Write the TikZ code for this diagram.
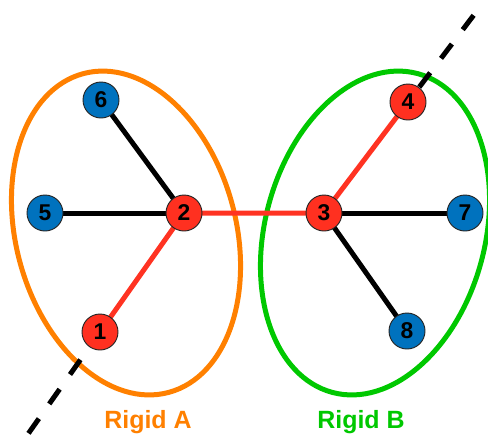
\documentclass[tikz,border=0pt]{standalone}
\usepackage{fontspec}
\setmainfont{Liberation Sans}
\usepackage{xcolor}
\usetikzlibrary{shapes.geometric}

\definecolor{atomred}{RGB}{255,48,32}
\definecolor{atomblue}{RGB}{0,114,190}
\definecolor{rigidorange}{RGB}{255,128,0}
\definecolor{rigidgreen}{RGB}{0,200,0}
\definecolor{bondred}{RGB}{255,51,34}

\pgfdeclarelayer{bodies}
\pgfdeclarelayer{bonds}
\pgfsetlayers{bodies,bonds,main}

\begin{document}
\begin{tikzpicture}[
  x=0.03cm, y=-0.03cm,
  atom/.style={circle, draw=black!85, line width=0.8pt, minimum size=1.08cm, inner sep=0pt,
    font=\fontsize{19.5}{20}\selectfont\bfseries},
  redatom/.style={atom, fill=atomred},
  blueatom/.style={atom, fill=atomblue},
  rigid/.style={ellipse, line width=0.15cm, minimum width=6.6cm, minimum height=9.9cm, inner sep=0pt},
  bond/.style={line width=0.15cm, black},
  hotbond/.style={line width=0.15cm, bondred},
  axisline/.style={line width=0.15cm, black, dash pattern=on 0.54cm off 0.54cm},
  rigidlabel/.style={font=\fontsize{21.3}{22}\selectfont\bfseries},
]
\useasboundingbox (0,0) rectangle (488,437);

% ---------- rigid bodies ----------
\begin{pgfonlayer}{bodies}
\node[rigid, draw=rigidorange, rotate=15]  (bodyA) at (126,233) {};
\node[rigid, draw=rigidgreen,  rotate=-15] (bodyB) at (375,233) {};
\end{pgfonlayer}
\node[rigidlabel, text=rigidorange] (labelA) at (148,422) {Rigid A};
\node[rigidlabel, text=rigidgreen]  (labelB) at (361,422) {Rigid B};

% ---------- atoms ----------
\node[redatom]  (n1) at (100,332) {1};
\node[redatom]  (n2) at (184,213) {2};
\node[redatom]  (n3) at (324,213) {3};
\node[redatom]  (n4) at (408,102) {4};
\node[blueatom] (n5) at (45,213)  {5};
\node[blueatom] (n6) at (101,100) {6};
\node[blueatom] (n7) at (465,213) {7};
\node[blueatom] (n8) at (407,331) {8};

% ---------- bonds ----------
\coordinate (tipA) at (28.5,433.3);
\coordinate (tipB) at (473.6,15.3);
\begin{pgfonlayer}{bonds}
\draw[bond] (n2.center) -- (n5.center);
\draw[bond] (n2.center) -- (n6.center);
\draw[bond] (n3.center) -- (n7.center);
\draw[bond] (n3.center) -- (n8.center);
\draw[hotbond] (n1.center) -- (n2.center) -- (n3.center) -- (n4.center);
\draw[axisline] (tipA) -- (n1.center);
\draw[axisline] (tipB) -- (n4.center);
\end{pgfonlayer}
\end{tikzpicture}
\end{document}
